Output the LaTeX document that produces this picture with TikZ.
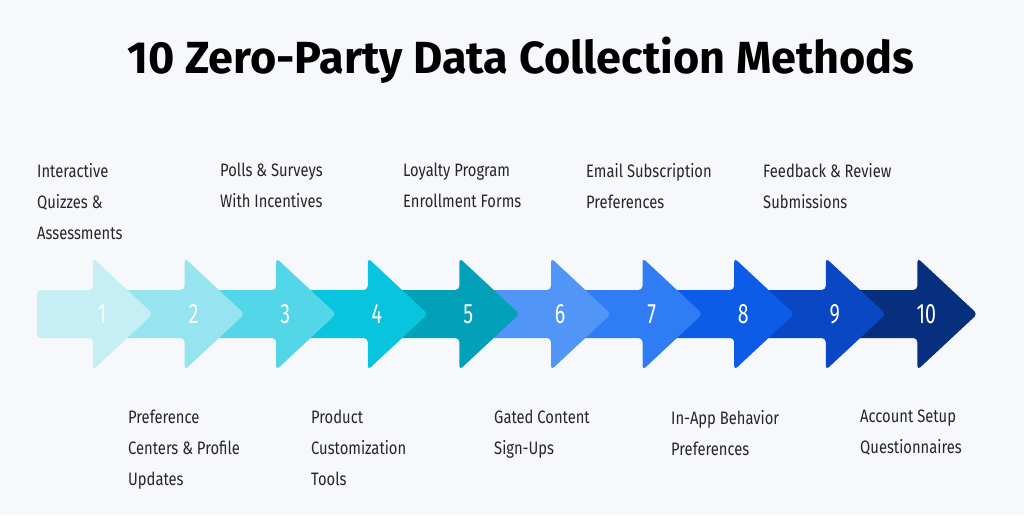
\documentclass[tikz,border=0pt]{standalone}
\usepackage{fontspec}
\setmainfont{Fira Sans}
\newfontfamily\lblfont[FakeStretch=0.82]{Fira Sans}
\newfontfamily\numfont[FakeStretch=0.7]{Fira Sans}
\usetikzlibrary{positioning}
\definecolor{bgc}{HTML}{F7F8FC}
\definecolor{c1}{HTML}{C5EEF5}
\definecolor{c2}{HTML}{95E4EF}
\definecolor{c3}{HTML}{52D6E8}
\definecolor{c4}{HTML}{08C4DF}
\definecolor{c5}{HTML}{02A1B9}
\definecolor{c6}{HTML}{5195F7}
\definecolor{c7}{HTML}{2F7CF5}
\definecolor{c8}{HTML}{0D5CE8}
\definecolor{c9}{HTML}{0A47C5}
\definecolor{c10}{HTML}{062F7E}
\tikzset{
  label text/.style={font=\lblfont\fontsize{18}{31}\selectfont, align=left, text=black!85, inner sep=0pt},
  num text/.style={font=\numfont\fontsize{28}{28}\selectfont, text=white, inner sep=0pt}
}
\begin{document}
\begin{tikzpicture}[x=1pt, y=-1pt]
    % Fond
    \fill[bgc] (0,0) rectangle (1024,515);
    \useasboundingbox (0,0) rectangle (1024,515);

    % Titre
    \node[font=\bfseries\fontsize{45}{45}\selectfont] (title) at (521,60) {10 Zero-Party Data Collection Methods};

    % Flèches (de la dernière à la première)
    \foreach \i in {10,9,...,1}{
        \pgfmathsetmacro{\hx}{93+91.6*(\i-1)}
        \pgfmathsetmacro{\bx}{\i==1 ? 37 : \hx-80}
        \fill[c\i, rounded corners=4pt] (\bx,290) -- (\hx,290) -- (\hx,258) -- (\hx+60,314)
            -- (\hx,370) -- (\hx,338) -- (\bx,338) -- cycle;
        \node[num text] (n\i) at (\hx+9,314) {\i};
    }

    % Étiquettes du haut
    \node[label text, anchor=north west] (l1) at (37,163) {Interactive\\Quizzes \&\\Assessments};
    \node[label text, anchor=north west] (l3) at (220,163) {Polls \& Surveys\\With Incentives};
    \node[label text, anchor=north west] (l5) at (403,163) {Loyalty Program\\Enrollment Forms};
    \node[label text, anchor=north west] (l7) at (586,163) {Email Subscription\\Preferences};
    \node[label text, anchor=north west] (l9) at (763,163) {Feedback \& Review\\Submissions};

    % Étiquettes du bas
    \node[label text, anchor=north west] (l2) at (128,410) {Preference\\Centers \& Profile\\Updates};
    \node[label text, anchor=north west] (l4) at (311,410) {Product\\Customization\\Tools};
    \node[label text, anchor=north west] (l6) at (494,410) {Gated Content\\Sign-Ups};
    \node[label text, anchor=north west] (l8) at (671,410) {In-App Behavior\\Preferences};
    \node[label text, anchor=north west] (l10) at (860,410) {Account Setup\\Questionnaires};
\end{tikzpicture}
\end{document}
